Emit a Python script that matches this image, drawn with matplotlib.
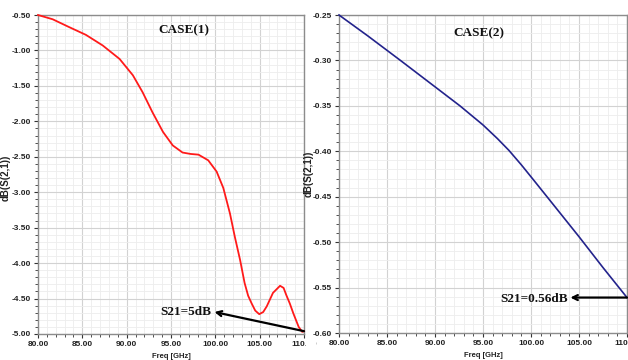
import numpy as np
import matplotlib
matplotlib.use('Agg')
import matplotlib.pyplot as plt
from matplotlib.ticker import MultipleLocator, FixedLocator
from matplotlib.patches import Rectangle

plt.rcParams['font.family'] = ['Liberation Sans', 'DejaVu Sans']

# CASE(1)
freq1 = [80, 81.65, 83.5, 85.4, 87.3, 89.2, 90.7, 91.8, 92.9, 94.1, 95.2, 96.3,
         97.2, 98.1, 99.2, 100.15, 100.9, 101.65, 102.2, 102.8, 103.3, 103.7,
         104.1, 104.5, 104.95, 105.4, 105.8, 106.5, 107.3, 107.7, 108.0, 108.4,
         108.8, 109.4, 109.8, 110]
s21_case1 = [-0.50, -0.56, -0.67, -0.78, -0.93, -1.12, -1.35, -1.59, -1.87,
             -2.15, -2.34, -2.44, -2.46, -2.47, -2.55, -2.71, -2.94, -3.30,
             -3.63, -3.96, -4.28, -4.46, -4.57, -4.67, -4.72, -4.69, -4.61,
             -4.42, -4.32, -4.35, -4.45, -4.57, -4.71, -4.90, -4.97, -4.96]

# CASE(2)
freq2 = [80, 83, 86.4, 89.5, 92.6, 95, 96.5, 97.7, 99, 100.3, 102.5, 105, 107.5, 110]
s21_case2 = [-0.25, -0.273, -0.30, -0.325, -0.35, -0.371, -0.386, -0.399,
             -0.415, -0.432, -0.461, -0.494, -0.528, -0.561]

xticks = [80, 85, 90, 95, 100, 105, 110]
yticks1 = [-0.5, -1.0, -1.5, -2.0, -2.5, -3.0, -3.5, -4.0, -4.5, -5.0]
yticks2 = [-0.25, -0.30, -0.35, -0.40, -0.45, -0.50, -0.55, -0.60]

W, H = 628, 360
fig = plt.figure(figsize=(W / 100, H / 100), dpi=100)


def box(l, r, t, b):
    return [l / W, 1 - b / H, (r - l) / W, (b - t) / H]


def style(ax, yticks, ymin, ymax, yminor):
    ax.set_xlim(80, 110)
    ax.set_ylim(ymin, ymax)
    ax.xaxis.set_major_locator(FixedLocator(xticks))
    ax.xaxis.set_minor_locator(MultipleLocator(1))
    ax.yaxis.set_major_locator(FixedLocator(yticks))
    ax.yaxis.set_minor_locator(MultipleLocator(yminor))
    ax.set_xticklabels(['%.2f' % v for v in xticks], fontweight='bold')
    ax.set_yticklabels(['%.2f' % v for v in yticks], fontweight='bold')
    ax.grid(which='major', color='#d2d2d2', lw=0.8)
    ax.grid(which='minor', color='#ededed', lw=0.6)
    ax.set_axisbelow(True)
    for s in ax.spines.values():
        s.set_color('#8c8c8c')
        s.set_linewidth(1.0)
    ax.tick_params(which='major', direction='out', length=3, width=0.8,
                   color='#333333', labelsize=6, pad=2, labelcolor='#222222')
    ax.tick_params(which='minor', direction='out', length=2, width=0.6, color='#333333')
    ax.set_xlabel('Freq [GHz]', fontsize=5.5, fontweight='bold', color='#222222')
    ax.set_ylabel('dB(S(2,1))', fontsize=7, fontweight='bold', color='#222222')


serif = dict(family='Liberation Serif', fontweight='bold', color='#111111')

ax1 = fig.add_axes(box(38, 304, 15, 334))
style(ax1, yticks1, -5.0, -0.5, 0.1)
ax1.yaxis.set_label_coords(-0.102, 0.49)
ax1.xaxis.set_label_coords(0.5, -0.058)
ax1.plot(freq1, s21_case1, color='#ff1a1a', lw=1.3, clip_on=False, zorder=3)
ax1.text(96.5, -0.72, 'CASE(1)', ha='center', va='center', fontsize=9.5, **serif)
ax1.annotate('', xy=(99.9, -4.69), xytext=(110, -4.96),
             arrowprops=dict(arrowstyle='->', lw=1.6, color='black',
                             mutation_scale=9, shrinkA=0, shrinkB=0))
ax1.text(99.6, -4.69, 'S21=5dB', ha='right', va='center', fontsize=9.5, **serif)

ax2 = fig.add_axes(box(339, 627, 15, 333))
style(ax2, yticks2, -0.60, -0.25, 0.01)
ax2.yaxis.set_label_coords(-0.088, 0.5)
ax2.xaxis.set_label_coords(0.5, -0.061)
ax2.plot(freq2, s21_case2, color='#23238c', lw=1.2, clip_on=False, zorder=3)
ax2.text(94.6, -0.2705, 'CASE(2)', ha='center', va='center', fontsize=9.5, **serif)
ax2.annotate('', xy=(104.1, -0.561), xytext=(110, -0.561),
             arrowprops=dict(arrowstyle='->', lw=1.6, color='black',
                             mutation_scale=9, shrinkA=0, shrinkB=0))
ax2.text(103.8, -0.5625, 'S21=0.56dB', ha='right', va='center', fontsize=9.5, **serif)

# the left panel's last x label is cut off in the original
fig.add_artist(Rectangle((306 / W, 1 - 352 / H), 10 / W, 16 / H,
                         transform=fig.transFigure, fc='white', ec='none', zorder=5))

fig.savefig('out.png', dpi=100)
